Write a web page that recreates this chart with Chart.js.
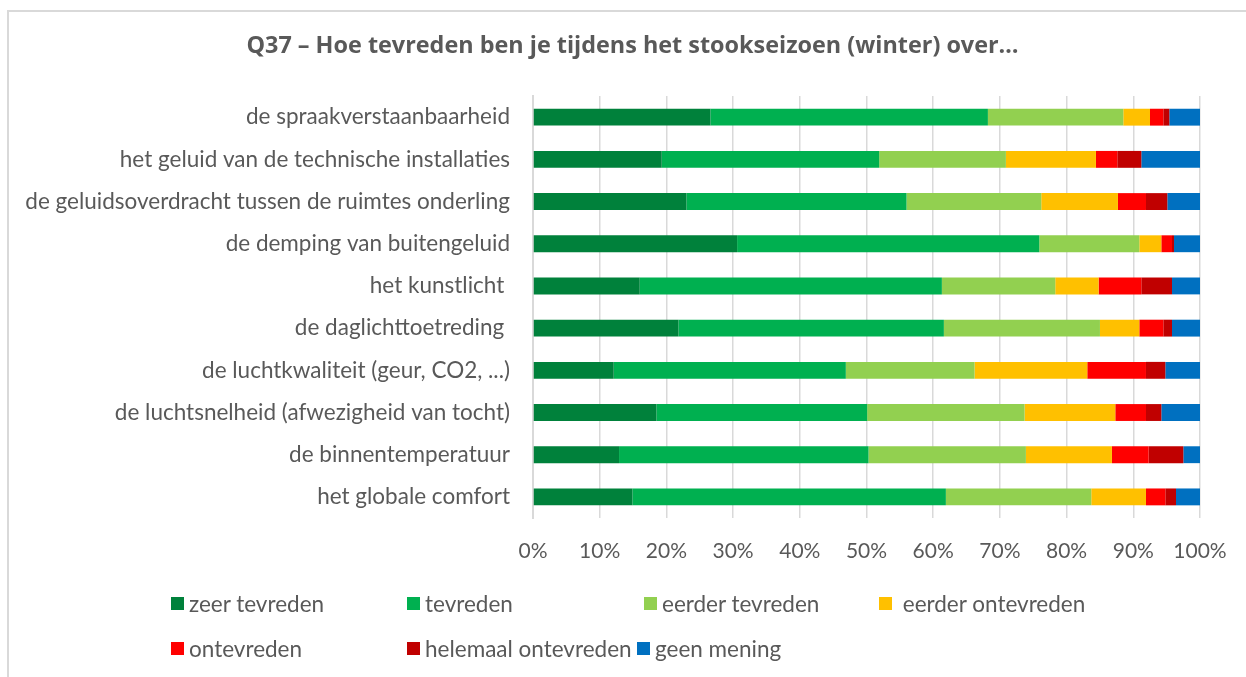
<!DOCTYPE html>
<html>
<head>
<meta charset="utf-8">
<script src="https://cdn.jsdelivr.net/npm/chart.js@4.4.1/dist/chart.umd.min.js"></script>
<style>
  html, body { margin: 0; padding: 0; background: #fff; width: 1246px; height: 677px; overflow: hidden; }
  #frame { position: absolute; left: 7px; top: 10px; width: 1250px; height: 700px; border-top: 2px solid #d9d9d9; border-left: 2px solid #d9d9d9; }
  #wrap { position: absolute; left: 0; top: 0; width: 1246px; height: 580px; }
  #legend { position: absolute; left: 0; top: 0; width: 1246px; height: 677px; pointer-events: none; }
  .li { position: absolute; width: 360px; height: 28px; font-family: Lato, "Open Sans", sans-serif; font-size: 22.5px; color: #595959; white-space: pre; line-height: 28px; }
  .li span.box { position: absolute; left: 0; top: 7px; width: 13px; height: 13px; }
  .li span.t { position: absolute; left: 18px; top: 0; }
</style>
</head>
<body>
<div id="frame"></div>
<div id="wrap"><canvas id="c"></canvas></div>
<div id="legend"></div>
<script>
const titleText = "Q37 \u2013 Hoe tevreden ben je tijdens het stookseizoen (winter) over\u2026";
const categories = [
  "de spraakverstaanbaarheid",
  "het geluid van de technische installaties",
  "de geluidsoverdracht tussen de ruimtes onderling",
  "de demping van buitengeluid",
  "het kunstlicht ",
  "de daglichttoetreding ",
  "de luchtkwaliteit (geur, CO2, ...)",
  "de luchtsnelheid (afwezigheid van tocht)",
  "de binnentemperatuur",
  "het globale comfort"
];
const seriesNames = ["zeer tevreden", "tevreden", "eerder tevreden", " eerder ontevreden", "ontevreden", "helemaal ontevreden", "geen mening"];
const zeerTevreden       = [26.6, 19.3, 23.0, 30.6, 16.0, 21.8, 12.1, 18.5, 12.9, 14.9];
const tevreden           = [41.6, 32.6, 33.0, 45.3, 45.3, 39.8, 34.8, 31.6, 37.4, 47.0];
const eerderTevreden     = [20.3, 19.0, 20.2, 15.0, 17.0, 23.4, 19.3, 23.6, 23.6, 21.8];
const eerderOntevreden   = [4.0, 13.5, 11.5, 3.3, 6.5, 5.9, 16.9, 13.6, 12.9, 8.2];
const ontevreden         = [2.0, 3.2, 4.2, 1.6, 6.4, 3.6, 8.8, 4.6, 5.5, 2.9];
const helemaalOntevreden = [0.9, 3.6, 3.2, 0.3, 4.6, 1.3, 2.9, 2.3, 5.2, 1.6];
const geenMening         = [4.6, 8.8, 4.9, 3.9, 4.2, 4.2, 5.2, 5.8, 2.5, 3.6];
const xTicks = [0, 10, 20, 30, 40, 50, 60, 70, 80, 90, 100];

const colors = ["#00813B", "#00B050", "#92D050", "#FFC000", "#FF0000", "#C00000", "#0070C0"];
const allSeries = [zeerTevreden, tevreden, eerderTevreden, eerderOntevreden, ontevreden, helemaalOntevreden, geenMening];

const datasets = allSeries.map((d, i) => ({
  label: seriesNames[i],
  data: d,
  backgroundColor: colors[i],
  borderWidth: 0,
  barPercentage: 0.4,
  categoryPercentage: 1.0
}));

const textColor = "#595959";
const gridColor = "#d9d9d9";

const chart = new Chart(document.getElementById("c"), {
  type: "bar",
  data: { labels: categories, datasets },
  options: {
    indexAxis: "y",
    responsive: true,
    maintainAspectRatio: false,
    animation: false,
    layout: { padding: { left: 19, right: 0, top: 0, bottom: 0 } },
    plugins: {
      legend: { display: false },
      tooltip: { enabled: false },
      title: {
        display: true,
        text: titleText,
        color: textColor,
        font: { family: "'Open Sans', Lato, sans-serif", size: 23.4, weight: "bold" },
        padding: { top: 32, bottom: 36 }
      }
    },
    scales: {
      x: {
        stacked: true,
        min: 0,
        max: 100,
        afterBuildTicks: (s) => { s.ticks = xTicks.map(v => ({ value: v })); },
        afterFit: (s) => { s.height = 62; s.paddingRight = 46; s.paddingLeft = 0; },
        ticks: {
          color: textColor,
          font: { family: "Lato, 'Open Sans', sans-serif", size: 21 },
          padding: 21,
          callback: (v) => v + "%"
        },
        grid: { color: gridColor, lineWidth: 1.5, drawTicks: false },
        border: { display: false }
      },
      y: {
        stacked: true,
        afterFit: (s) => { s.width = 514; },
        ticks: {
          color: textColor,
          font: { family: "Lato, 'Open Sans', sans-serif", size: 22.5 },
          padding: 23
        },
        grid: { display: false, drawTicks: false },
        border: { display: true, color: gridColor, width: 2 }
      }
    }
  }
});

// HTML legend built from the datasets
const legendPos = [[171, 590], [407, 590], [644, 590], [879, 590], [171, 635], [407, 635], [637, 635]];
const lg = document.getElementById("legend");
datasets.forEach((ds, i) => {
  const el = document.createElement("div");
  el.className = "li";
  el.style.left = legendPos[i][0] + "px";
  el.style.top = legendPos[i][1] + "px";
  const b = document.createElement("span");
  b.className = "box";
  b.style.background = ds.backgroundColor;
  const t = document.createElement("span");
  t.className = "t";
  t.textContent = ds.label;
  el.appendChild(b); el.appendChild(t);
  lg.appendChild(el);
});
</script>
</body>
</html>
